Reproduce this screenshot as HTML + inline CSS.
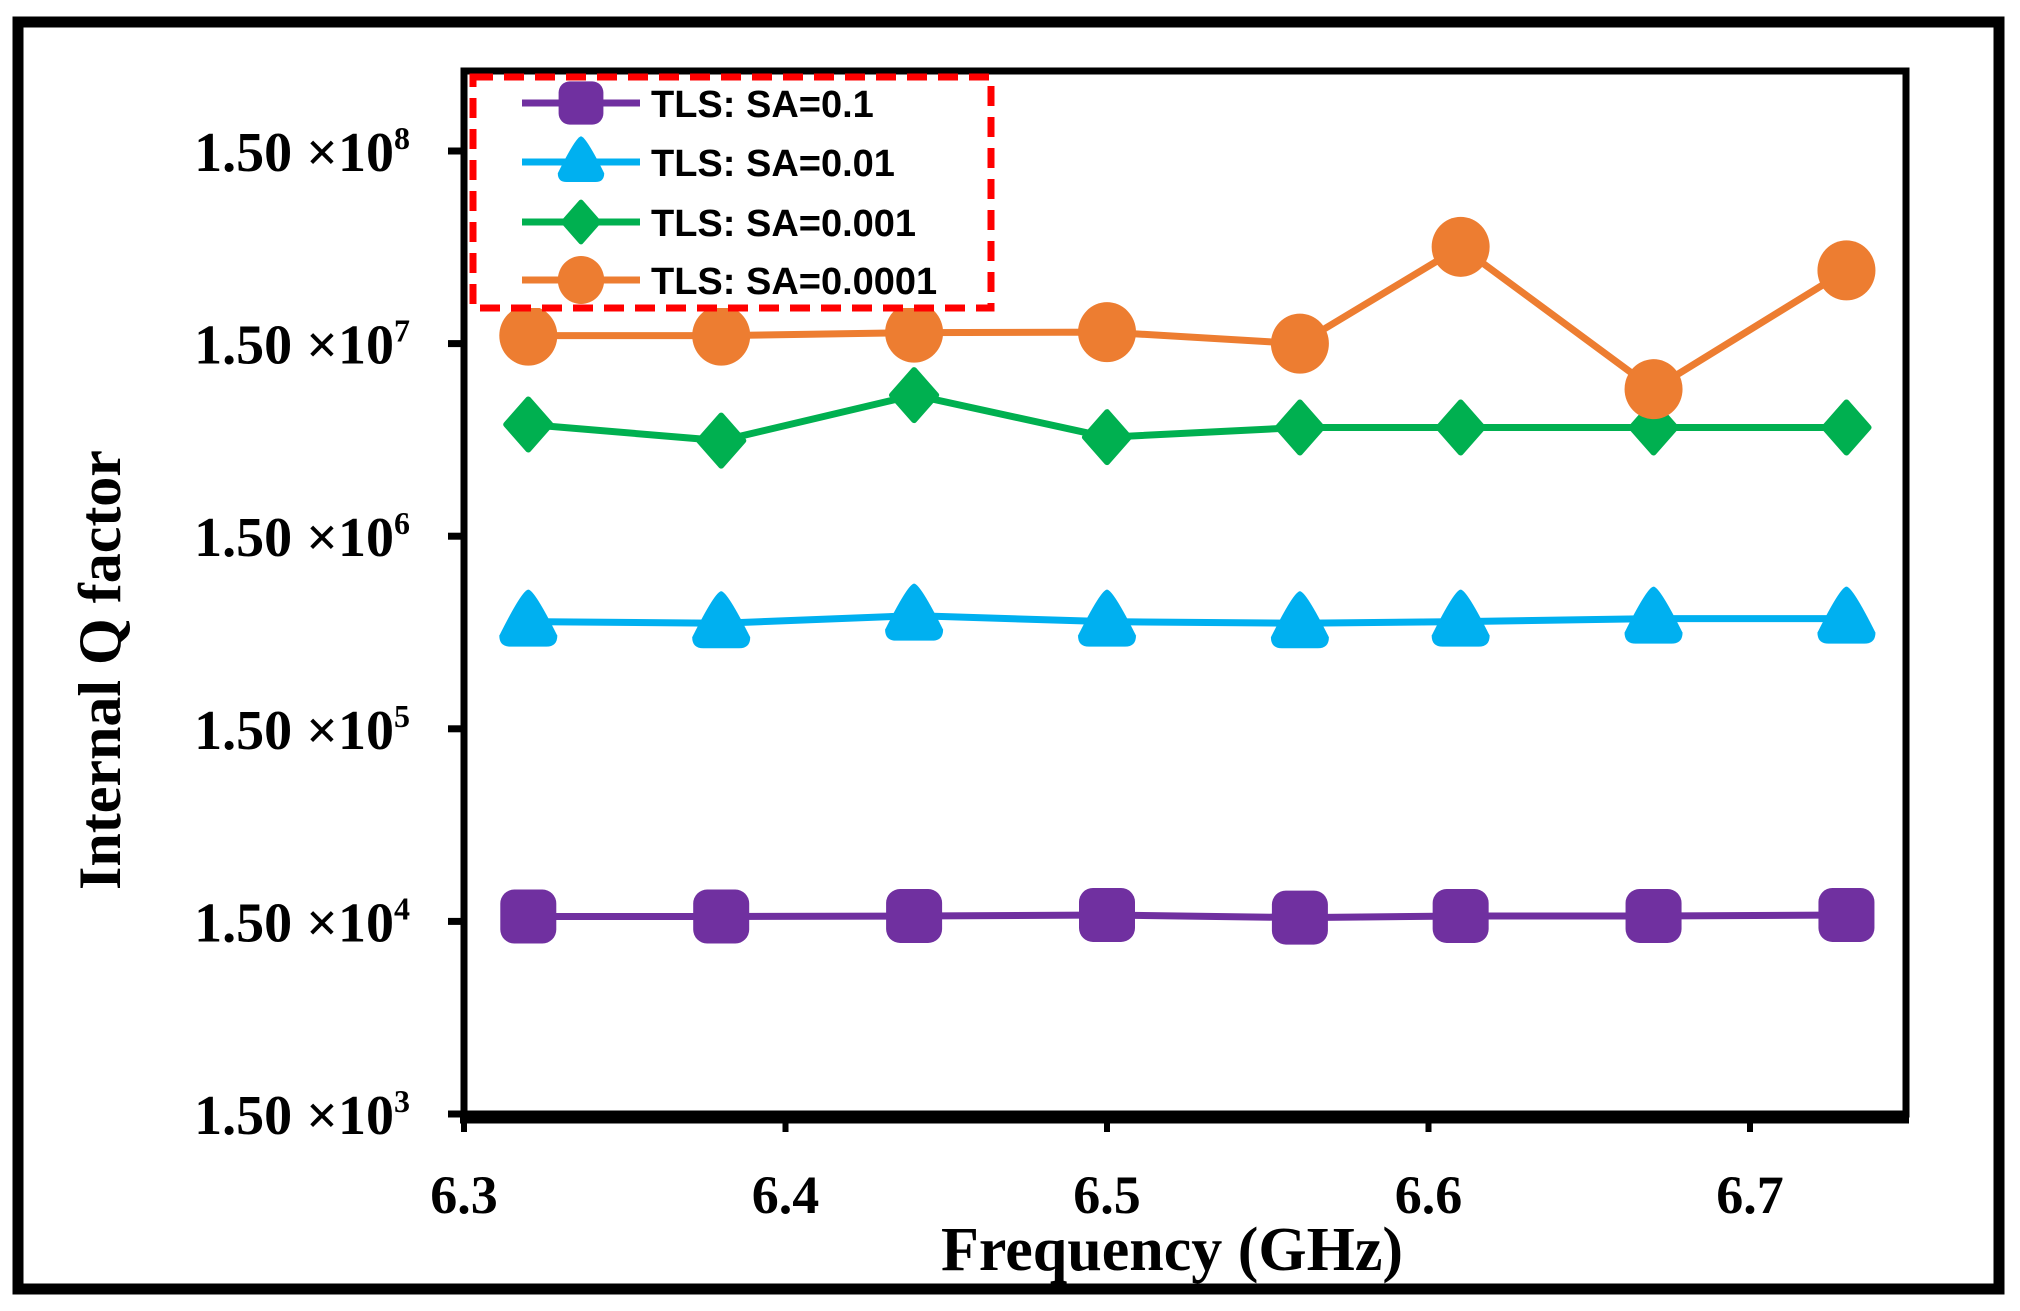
<!DOCTYPE html>
<html><head><meta charset="utf-8"><style>
html,body{margin:0;padding:0;background:#fff;}
svg{display:block;}
</style></head><body>
<svg id="chart" width="2020" height="1311" viewBox="0 0 2020 1311" xmlns="http://www.w3.org/2000/svg">
<rect x="18" y="22" width="1981" height="1267" fill="#fff" stroke="#000" stroke-width="11"/>
<g id="plot"></g>
</svg>
<script>
const freqs = [6.32, 6.38, 6.44, 6.5, 6.56, 6.61, 6.67, 6.73];
const sa01 = [1.59e4, 1.59e4, 1.6e4, 1.62e4, 1.57e4, 1.6e4, 1.6e4, 1.62e4];
const sa001 = [5.4e5, 5.3e5, 5.8e5, 5.4e5, 5.3e5, 5.4e5, 5.6e5, 5.6e5];
const sa0001 = [5.7e6, 4.7e6, 8.1e6, 4.9e6, 5.5e6, 5.5e6, 5.5e6, 5.5e6];
const sa00001 = [1.65e7, 1.65e7, 1.71e7, 1.72e7, 1.5e7, 4.77e7, 8.7e6, 3.6e7];
const xTicks = [6.3, 6.4, 6.5, 6.6, 6.7];
const yTickExps = [3, 4, 5, 6, 7, 8];
const seriesNames = ["TLS: SA=0.1", "TLS: SA=0.01", "TLS: SA=0.001", "TLS: SA=0.0001"];

const NS = "http://www.w3.org/2000/svg";
const L = 464, R = 1906, T = 71, B = 1114;
const X = f => L + (f - 6.3) / 0.1 * 321.5;
const Y = v => B - (Math.log10(v / 1.5) - 3) * 192.6;
const g = document.getElementById('plot');
function mk(tag, attrs, parent) {
  const e = document.createElementNS(NS, tag);
  for (const k in attrs) e.setAttribute(k, attrs[k]);
  (parent || g).appendChild(e);
  return e;
}
let e;
e = mk('rect', {x: L, y: T, width: R - L, height: B - T, fill: 'none', stroke: '#000', 'stroke-width': 7});


e = mk('line', {x1: L - 4, y1: B + 3, x2: R + 3, y2: B + 3, stroke: '#000', 'stroke-width': 13});


yTickExps.forEach(p => {
  const y = Y(1.5 * Math.pow(10, p));
  let t = mk('line', {x1: L - 16, y1: y, x2: L, y2: y, stroke: '#000', 'stroke-width': 7});
  
  
  let tx = mk('text', {x: 410, y: y + 20, 'text-anchor': 'end', 'font-family': 'Liberation Serif, serif', 'font-weight': 'bold', 'font-size': 56});
  
  
  tx.innerHTML = '1.50 ×10<tspan dy="-22" font-size="32">' + p + '</tspan>';
});
xTicks.forEach(f => {
  const x = X(f);
  let t = mk('line', {x1: x, y1: B, x2: x, y2: B + 18, stroke: '#000', 'stroke-width': 6});
  
  
  let tx = mk('text', {x: x, y: 1213, 'text-anchor': 'middle', 'font-family': 'Liberation Serif, serif', 'font-weight': 'bold', 'font-size': 54});
  
  
  tx.textContent = f.toFixed(1);
});
e = mk('text', {x: 1172, y: 1270, 'text-anchor': 'middle', 'font-family': 'Liberation Serif, serif', 'font-weight': 'bold', 'font-size': 62});


e.textContent = 'Frequency (GHz)';
e = mk('text', {x: 0, y: 0, transform: 'translate(120,670) rotate(-90)', 'text-anchor': 'middle', 'font-family': 'Liberation Serif, serif', 'font-weight': 'bold', 'font-size': 60});


e.textContent = 'Internal Q factor';

function marker(type, cx, cy, color, s, parent) {
  let m;
  if (type === 'square') m = mk('rect', {x: cx - 28 * s, y: cy - 27 * s, width: 56 * s, height: 54 * s, rx: 14 * s, fill: color}, parent);
  else if (type === 'tri') m = mk('path', {d: `M${cx} ${cy - 32 * s} Q${cx + 6 * s} ${cy - 32 * s} ${cx + 29 * s} ${cy + 14 * s} Q${cx + 29 * s} ${cy + 25 * s} ${cx + 18 * s} ${cy + 25 * s} L${cx - 18 * s} ${cy + 25 * s} Q${cx - 29 * s} ${cy + 25 * s} ${cx - 29 * s} ${cy + 14 * s} Q${cx - 6 * s} ${cy - 32 * s} ${cx} ${cy - 32 * s}Z`, fill: color}, parent);
  else if (type === 'diamond') m = mk('path', {d: `M${cx} ${cy - 25 * s} L${cx + 22 * s} ${cy} L${cx} ${cy + 25 * s} L${cx - 22 * s} ${cy}Z`, fill: color, stroke: color, 'stroke-width': 6 * s, 'stroke-linejoin': 'round'}, parent);
  else m = mk('ellipse', {cx: cx, cy: cy, rx: 29 * s, ry: 30 * s, fill: color}, parent);
  return m;
}
const series = [
  {vals: sa01, color: '#7030a0', type: 'square'},
  {vals: sa001, color: '#00b0f0', type: 'tri'},
  {vals: sa0001, color: '#00b050', type: 'diamond'},
  {vals: sa00001, color: '#ed7d31', type: 'circle'}
];
series.forEach((s, i) => {
  const sg = mk('g', {});
  
  
  const pts = s.vals.map((v, j) => X(freqs[j]) + ',' + Y(v)).join(' ');
  const pl = mk('polyline', {points: pts, fill: 'none', stroke: s.color, 'stroke-width': 7}, sg);
  
  
  s.vals.forEach((v, j) => {
    const m = marker(s.type, X(freqs[j]), Y(v), s.color, 1, sg);
    
    
  });
});
const lg = mk('g', {});


e = mk('rect', {x: 473, y: 77, width: 518, height: 231, fill: '#fff', stroke: '#ff0000', 'stroke-width': 7, 'stroke-dasharray': '20 11'}, lg);


const legY = [103, 162, 222, 280];
series.forEach((s, i) => {
  const eg = mk('g', {}, lg);
  
  
  mk('line', {x1: 522, y1: legY[i], x2: 640, y2: legY[i], stroke: s.color, 'stroke-width': 7}, eg);
  marker(s.type, 581, legY[i], s.color, 0.8, eg);
  const t = mk('text', {x: 651, y: legY[i] + 14, 'font-family': 'Liberation Sans, sans-serif', 'font-weight': 'bold', 'font-size': 38}, eg);
  
  
  t.textContent = seriesNames[i];
});
</script>
</body></html>
